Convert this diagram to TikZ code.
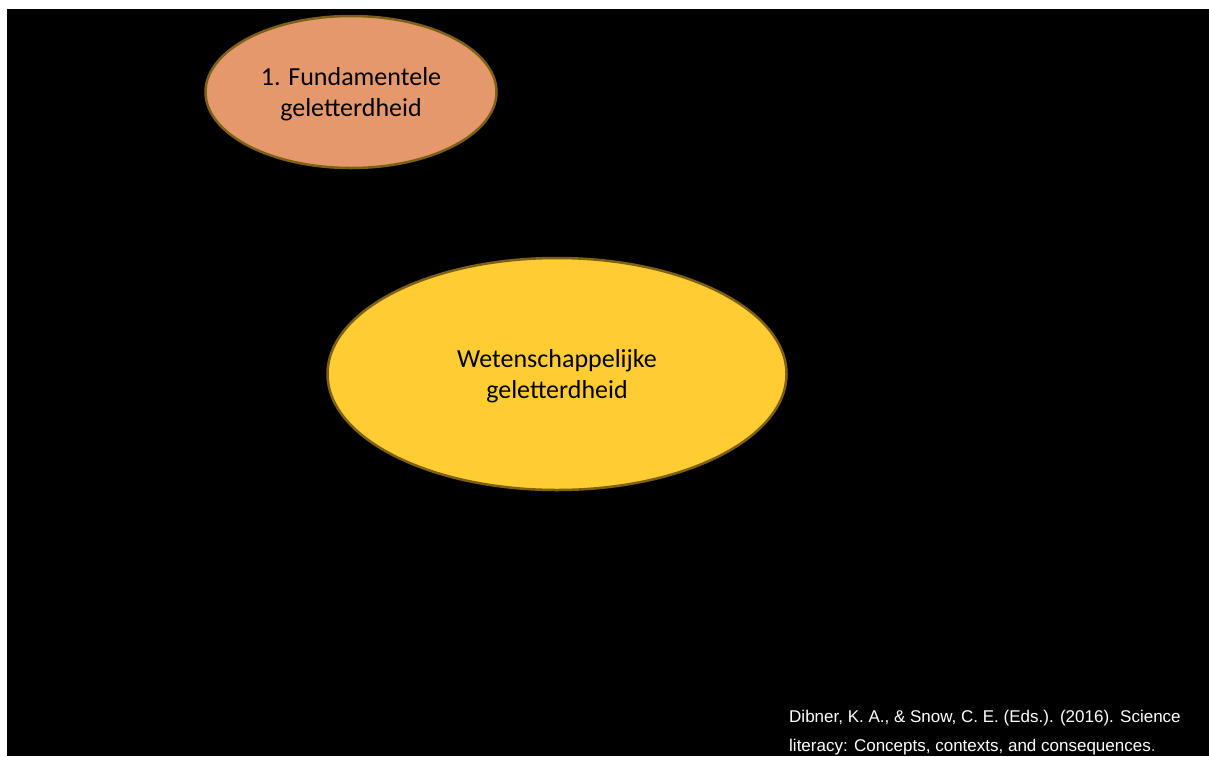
\documentclass[tikz,border=0pt]{standalone}
\usepackage{fontspec}
\setmainfont{Carlito}
\newfontfamily\citefont{Liberation Sans}
\usetikzlibrary{shapes.geometric}
\definecolor{rimbrown}{RGB}{125,96,20}
\definecolor{salmon}{RGB}{229,152,107}
\definecolor{sunyellow}{RGB}{255,205,50}

\begin{document}
\begin{tikzpicture}[x=1pt,y=-1pt,
  bubble/.style={ellipse,draw=rimbrown,line width=2.5pt,inner sep=0pt,
    align=center,text=black,text depth=0pt,font=\fontsize{26}{31}\selectfont}]
  \useasboundingbox (0,0) rectangle (1209,756);
  \fill[white] (0,0) rectangle (1209,756);
  \fill[black] (7,9) rectangle (1209,756);

  \node[bubble,fill=salmon,minimum width=291pt,minimum height=152pt]
    (fund) at (351,92) {1. Fundamentele\\geletterdheid};
  \node[bubble,fill=sunyellow,minimum width=459pt,minimum height=232pt]
    (wet) at (557,374) {Wetenschappelijke\\geletterdheid};

  \node[anchor=west,align=left,text=white,inner sep=0pt,
    font=\citefont\fontsize{17}{29}\selectfont]
    (cite) at (789,733) {Dibner, K. A., \& Snow, C. E. (Eds.). (2016). Science\\
    literacy: Concepts, contexts, and consequences\textcolor{gray!60}{.}};
\end{tikzpicture}
\end{document}
